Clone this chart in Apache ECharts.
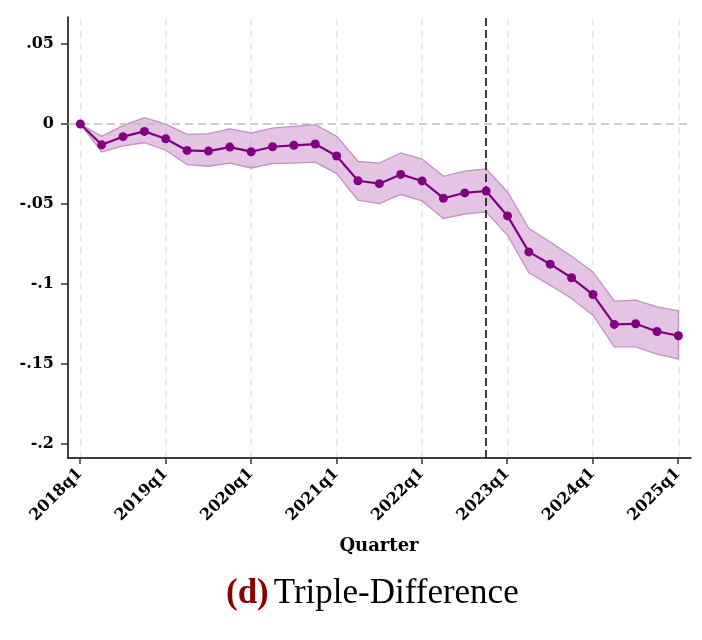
<!DOCTYPE html>
<html>
<head>
<meta charset="utf-8">
<script src="https://cdn.jsdelivr.net/npm/echarts@6/dist/echarts.min.js"></script>
<style>
html,body{margin:0;padding:0;background:#fff;}
#chart{width:702px;height:640px;}
</style>
</head>
<body>
<div id="chart"></div>
<script>
// Quarter categories (index 0 = 2018q1)
var quarters = ['2018q1','2018q2','2018q3','2018q4','2019q1','2019q2','2019q3','2019q4',
  '2020q1','2020q2','2020q3','2020q4','2021q1','2021q2','2021q3','2021q4',
  '2022q1','2022q2','2022q3','2022q4','2023q1','2023q2','2023q3','2023q4',
  '2024q1','2024q2','2024q3','2024q4','2025q1'];
// Point estimates
var coef = [0, -0.013, -0.0079, -0.0046, -0.0092, -0.0165, -0.0169, -0.0144, -0.0173,
  -0.0142, -0.0133, -0.0125, -0.020, -0.0355, -0.0373, -0.0315, -0.0356, -0.0464,
  -0.0431, -0.0419, -0.0575, -0.080, -0.0877, -0.0962, -0.1067, -0.1254, -0.125,
  -0.1298, -0.1325];
// Confidence interval bounds
var upper = [0, -0.0077, -0.001, 0.004, 0.000, -0.0064, -0.006, -0.003, -0.0056,
  -0.0025, -0.0015, -0.0004, -0.0077, -0.0233, -0.0244, -0.0181, -0.0219, -0.0327,
  -0.0294, -0.0281, -0.0425, -0.0654, -0.0738, -0.0827, -0.0925, -0.1108, -0.1102,
  -0.1144, -0.1169];
var lower = [0, -0.0175, -0.0137, -0.0117, -0.0164, -0.0254, -0.0264, -0.0244, -0.0275,
  -0.0248, -0.0244, -0.0238, -0.031, -0.0477, -0.0498, -0.0441, -0.0481, -0.0591,
  -0.0564, -0.055, -0.0696, -0.0931, -0.1008, -0.1092, -0.1196, -0.1394, -0.1394,
  -0.144, -0.147];
// Tick labels
var xTickIdx = [0, 4, 8, 12, 16, 20, 24, 28];
var yTicks = [-0.2, -0.15, -0.1, -0.05, 0, 0.05];
var yTickLabels = ['-.2', '-.15', '-.1', '-.05', '0', '.05'];
var treatQuarter = '2022q4';

var chart = echarts.init(document.getElementById('chart'), null, {renderer: 'canvas'});

var tickFont = {fontFamily: 'DejaVu Serif', fontWeight: 'bold', fontSize: 16, color: '#000'};

var bandData = lower.map(function (v, i) { return [i, v, upper[i]]; });
var coefData = coef.map(function (v, i) { return [i, v]; });

var option = {
  animation: false,
  backgroundColor: '#fff',
  title: {
    text: '{d|(d)} {t|Triple-Difference}',
    left: 221,
    top: 571,
    textStyle: {
      rich: {
        d: {fontFamily: 'Liberation Serif', fontWeight: 'bold', fontSize: 35, color: '#8b0000'},
        t: {fontFamily: 'Liberation Serif', fontWeight: 'normal', fontSize: 35, color: '#000'}
      }
    }
  },
  grid: [
    {left: 68, right: 11, top: 17, bottom: 182, containLabel: false},
    {left: 80, right: 24, top: 44, bottom: 196, containLabel: false}
  ],
  xAxis: [
    {
      gridIndex: 0, type: 'value', min: -0.576, max: 28.59,
      axisLine: {show: true, onZero: false, lineStyle: {color: '#000', width: 1.5}},
      axisTick: {show: false}, axisLabel: {show: false}, splitLine: {show: false}
    },
    {
      gridIndex: 1, type: 'value', min: 0, max: 28, interval: 4, offset: 14,
      position: 'bottom',
      axisLine: {show: false, onZero: false}, splitLine: {show: false},
      axisTick: {show: true, length: 6, lineStyle: {color: '#333', width: 1.5}},
      axisLabel: Object.assign({
        rotate: 45, margin: 13,
        formatter: function (v) { return quarters[Math.round(v)] || ''; }
      }, tickFont),
      name: 'Quarter', nameLocation: 'middle', nameGap: 79,
      nameTextStyle: {fontFamily: 'DejaVu Serif', fontWeight: 'bold', fontSize: 18, color: '#000'}
    }
  ],
  yAxis: [
    {
      gridIndex: 0, type: 'value', min: -0.209, max: 0.067,
      axisLine: {show: true, onZero: false, lineStyle: {color: '#000', width: 1.5}},
      axisTick: {show: false}, axisLabel: {show: false}, splitLine: {show: false}
    },
    {
      gridIndex: 1, type: 'value', min: yTicks[0], max: yTicks[yTicks.length - 1], interval: 0.05,
      offset: 12, position: 'left',
      axisLine: {show: false, onZero: false}, splitLine: {show: false},
      axisTick: {show: true, length: 7, lineStyle: {color: '#333', width: 1.5}},
      axisLabel: Object.assign({
        margin: 14,
        formatter: function (v) {
          var best = 0;
          for (var i = 0; i < yTicks.length; i++) {
            if (Math.abs(yTicks[i] - v) < Math.abs(yTicks[best] - v)) best = i;
          }
          return yTickLabels[best];
        }
      }, tickFont)
    }
  ],
  series: [
    {
      name: 'guides', type: 'line', xAxisIndex: 0, yAxisIndex: 0,
      data: [], z: 0,
      markLine: {
        silent: true, symbol: 'none', label: {show: false}, z: 0,
        data: xTickIdx.map(function (i) {
          return {xAxis: i, lineStyle: {color: '#e6e6e6', type: [7, 5], width: 1.5}};
        })
      }
    },
    {
      name: 'band', type: 'custom', xAxisIndex: 0, yAxisIndex: 0,
      data: bandData, encode: {x: 0, y: [1, 2]}, z: 1, silent: true,
      renderItem: function (params, api) {
        if (params.dataIndex !== 0) return null;
        var pts = [];
        for (var i = 0; i < upper.length; i++) pts.push(api.coord([i, upper[i]]));
        for (var j = lower.length - 1; j >= 0; j--) pts.push(api.coord([j, lower[j]]));
        return {
          type: 'polygon',
          shape: {points: pts},
          style: {fill: 'rgba(200,140,200,0.5)', stroke: '#c58fc6', lineWidth: 1.3}
        };
      }
    },
    {
      name: 'refs', type: 'line', xAxisIndex: 0, yAxisIndex: 0,
      data: [], z: 2,
      markLine: {
        silent: true, symbol: 'none', label: {show: false}, z: 2,
        data: [
          {yAxis: 0, lineStyle: {color: '#bdbdbd', type: [8, 5], width: 1.5}},
          {xAxis: quarters.indexOf(treatQuarter), lineStyle: {color: '#000', type: [8, 4], width: 1.5}}
        ]
      }
    },
    {
      name: 'coef', type: 'line', xAxisIndex: 0, yAxisIndex: 0,
      data: coefData, z: 4,
      symbol: 'circle', symbolSize: 9, showSymbol: true,
      itemStyle: {color: '#800080'},
      lineStyle: {color: '#800080', width: 2.2}
    }
  ]
};
chart.setOption(option);
</script>
</body>
</html>
